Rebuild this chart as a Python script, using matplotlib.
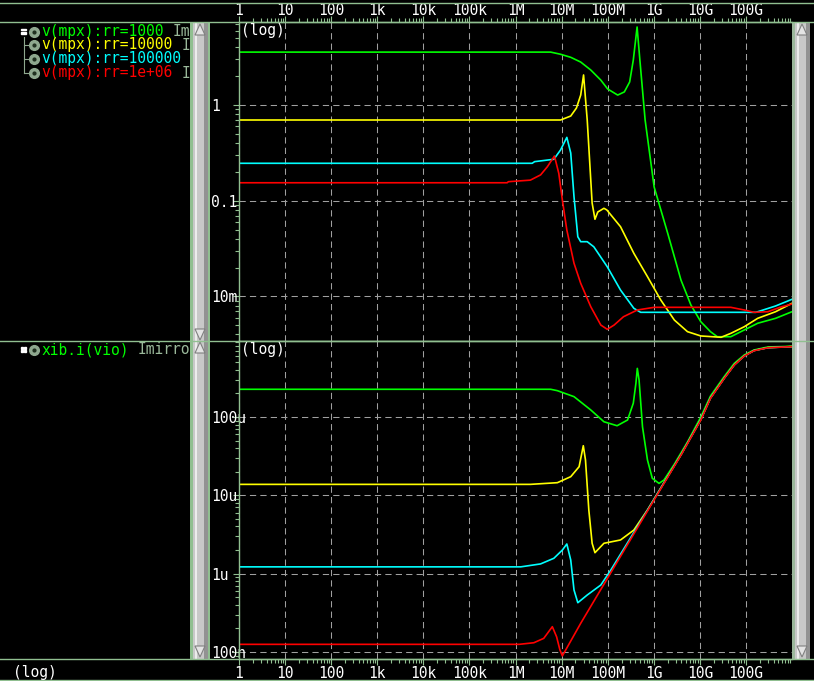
import matplotlib
matplotlib.use("Agg")
import matplotlib.pyplot as plt
from matplotlib.ticker import FixedLocator, FixedFormatter, LogLocator, NullFormatter
from matplotlib.patches import Rectangle, Polygon

plt.rcParams['font.family'] = ['DejaVu Sans Mono']

# asse frequenze (Hz)
freq_ticks = [1, 1e1, 1e2, 1e3, 1e4, 1e5, 1e6, 1e7, 1e8, 1e9, 1e10, 1e11]
freq_labels = ["1", "10", "100", "1k", "10k", "100k", "1M", "10M", "100M", "1G", "10G", "100G"]

top_ticks = [1e-2, 1e-1, 1]
top_labels = ["10m", "0.1", "1"]
bot_ticks = [1e-7, 1e-6, 1e-5, 1e-4]
bot_labels = ["100n", "1u", "10u", "100u"]

legend_names = ["v(mpx):rr=1000", "v(mpx):rr=10000", "v(mpx):rr=100000", "v(mpx):rr=1e+06"]
bottom_name = "xib.i(vio)"
suffix = "Imirror"
colors = ["#00ff00", "#ffff00", "#00ffff", "#ff0000"]

# --- pannello alto: v(mpx) ---
top_f_rr1k = [1, 5.8e6, 9.5e6, 1.58e7, 2.6e7, 4.3e7, 7.1e7, 1.0e8, 1.65e8, 2.3e8, 3.0e8, 3.6e8,
              4.35e8, 5.0e8, 6.5e8, 1.02e9, 2.0e9, 3.9e9, 6.4e9, 1.05e10, 1.7e10, 2.4e10, 4.7e10,
              9.2e10, 1.8e11, 4.4e11, 1e12]
top_v_rr1k = [3.57, 3.57, 3.39, 3.15, 2.81, 2.32, 1.82, 1.47, 1.27, 1.37, 1.74, 2.95,
              6.53, 2.95, 0.697, 0.139, 0.046, 0.0148, 8.13e-3, 5.44e-3, 4.28e-3, 3.79e-3, 3.79e-3,
              4.46e-3, 5.24e-3, 5.9e-3, 6.92e-3]

top_f_rr10k = [1, 9.5e6, 1.58e7, 2.1e7, 2.6e7, 3.0e7, 3.6e7, 4.6e7, 5.3e7, 6.1e7, 8.3e7, 9.6e7,
               1.9e8, 3.7e8, 7.3e8, 1.42e9, 2.8e9, 5.4e9, 1.05e10, 2.9e10, 4.7e10, 9.2e10,
               1.8e11, 4.4e11, 1e12]
top_v_rr10k = [0.697, 0.697, 0.767, 0.93, 1.27, 2.06, 0.697, 0.0946, 0.064, 0.0762, 0.0833, 0.080,
               0.0535, 0.0282, 0.0161, 9.17e-3, 5.66e-3, 4.28e-3, 3.86e-3, 3.74e-3, 4.11e-3, 4.82e-3,
               5.9e-3, 6.92e-3, 8.47e-3]

top_f_rr100k = [1, 2.3e6, 2.6e6, 6.8e6, 9.5e6, 1.3e7, 1.58e7, 1.86e7, 2.25e7, 2.6e7, 3.6e7, 5.0e7,
                9.8e7, 1.9e8, 3.7e8, 5.2e8, 1.65e11, 4.4e11, 1e12]
top_v_rr100k = [0.246, 0.246, 0.256, 0.271, 0.339, 0.459, 0.315, 0.110, 0.042, 0.0373, 0.0373, 0.033,
                0.0204, 0.01166, 7.51e-3, 6.82e-3, 6.82e-3, 7.94e-3, 9.33e-3]

top_f_rr1m = [1, 6.6e5, 7e5, 2.1e6, 3.5e6, 4.9e6, 7.0e6, 8.7e6, 1.04e7, 1.3e7, 1.86e7, 2.6e7,
              4.3e7, 7.1e7, 9.8e7, 1.38e8, 2.2e8, 4.4e8, 1.02e9, 4.7e10, 9.2e10, 1.5e11, 3.0e11,
              5.5e11, 1e12]
top_v_rr1m = [0.154, 0.154, 0.158, 0.164, 0.186, 0.226, 0.293, 0.193, 0.1017, 0.0494, 0.0222, 0.0137,
              7.8e-3, 5.02e-3, 4.53e-3, 5.02e-3, 6.13e-3, 7.21e-3, 7.69e-3, 7.69e-3, 7.21e-3, 6.82e-3,
              6.92e-3, 7.69e-3, 8.33e-3]

# --- pannello basso: xib.i(vio) ---
bot_f_rr1k = [1, 5.8e6, 8.1e6, 1.86e7, 4.3e7, 8.3e7, 1.6e8, 2.7e8, 3.6e8, 4.1e8, 4.4e8, 4.8e8,
              5.7e8, 7.3e8, 9.3e8, 1.3e9, 1.67e9, 2.8e9, 5.4e9, 1.05e10, 1.7e10, 3.4e10, 5.6e10,
              9.2e10, 1.5e11, 3.0e11, 1e12]
bot_i_rr1k = [2.26e-4, 2.26e-4, 2.17e-4, 1.82e-4, 1.23e-4, 8.7e-5, 7.74e-5, 9.16e-5, 1.50e-4, 2.69e-4,
              4.18e-4, 2.97e-4, 7.5e-5, 2.83e-5, 1.65e-5, 1.42e-5, 1.57e-5, 2.5e-5, 4.8e-5, 1.0e-4,
              1.85e-4, 3.3e-4, 4.85e-4, 6.2e-4, 7.18e-4, 7.85e-4, 8.0e-4]

bot_f_rr10k = [1, 2.1e6, 8.1e6, 1.58e7, 2.4e7, 2.96e7, 3.3e7, 3.9e7, 4.6e7, 5.3e7, 8.3e7, 1.9e8,
               3.7e8, 7.3e8, 3.9e9, 1.05e10, 1.7e10, 3.4e10, 5.6e10, 9.2e10, 1.5e11, 3.0e11, 1e12]
bot_i_rr10k = [1.38e-5, 1.38e-5, 1.45e-5, 1.73e-5, 2.32e-5, 4.3e-5, 2.83e-5, 6.49e-6, 2.44e-6, 1.85e-6,
               2.44e-6, 2.69e-6, 3.6e-6, 6.49e-6, 3.3e-5, 9.3e-5, 1.75e-4, 3.15e-4, 4.65e-4, 6.05e-4,
               7.08e-4, 7.7e-4, 7.95e-4]

bot_f_rr100k = [1, 1.3e6, 3.5e6, 6.8e6, 1.04e7, 1.3e7, 1.58e7, 1.86e7, 2.25e7, 3.6e7, 7.1e7, 1.17e8,
                7.3e8, 3.9e9, 1.05e10, 1.7e10, 3.4e10, 5.6e10, 9.2e10, 1.5e11, 3.0e11, 1e12]
bot_i_rr100k = [1.22e-6, 1.22e-6, 1.33e-6, 1.57e-6, 2.0e-6, 2.39e-6, 1.49e-6, 6.18e-7, 4.25e-7, 5.33e-7,
                7.15e-7, 1.11e-6, 6.45e-6, 3.3e-5, 9.3e-5, 1.75e-4, 3.14e-4, 4.63e-4, 6.03e-4, 7.05e-4,
                7.68e-4, 7.92e-4]

bot_f_rr1m = [1, 1.2e6, 2.5e6, 4.1e6, 6.3e6, 7.8e6, 9.2e6, 1.04e7, 2.6e7, 1.38e8, 7.3e8, 3.9e9,
              1.05e10, 1.7e10, 3.4e10, 5.6e10, 9.2e10, 1.5e11, 3.0e11, 1e12]
bot_i_rr1m = [1.25e-7, 1.25e-7, 1.31e-7, 1.49e-7, 2.10e-7, 1.56e-7, 1.06e-7, 8.9e-8, 2.32e-7, 1.21e-6,
              6.3e-6, 3.27e-5, 9.16e-5, 1.73e-4, 3.12e-4, 4.61e-4, 6.01e-4, 7.03e-4, 7.67e-4, 7.91e-4]

FRAME = "#90bf90"
GRID = "#a0a0a0"
W, H = 814, 681


def style_axes(ax, yticks, ylabels, ylim, xtop):
    ax.set_facecolor("black")
    ax.set_xscale("log")
    ax.set_yscale("log")
    ax.set_xlim(1, 1e12)
    ax.set_ylim(*ylim)
    ax.set_axisbelow(True)
    for s in ax.spines.values():
        s.set_color(FRAME)
        s.set_linewidth(1.0)
    ax.spines["right"].set_visible(False)

    ax.xaxis.set_major_locator(FixedLocator(freq_ticks))
    ax.xaxis.set_minor_locator(LogLocator(base=10, subs=range(2, 10), numticks=100))
    ax.yaxis.set_major_locator(FixedLocator(yticks))
    ax.yaxis.set_minor_locator(LogLocator(base=10, subs=range(2, 10), numticks=100))
    ax.yaxis.set_major_formatter(FixedFormatter(ylabels))
    ax.yaxis.set_minor_formatter(NullFormatter())
    ax.xaxis.set_minor_formatter(NullFormatter())
    ax.xaxis.set_major_formatter(FixedFormatter(freq_labels))
    if xtop:
        ax.tick_params(axis="x", which="both", top=True, bottom=False, labeltop=True, labelbottom=False)
    else:
        ax.tick_params(axis="x", which="both", top=False, bottom=True, labeltop=False, labelbottom=True)
    ax.tick_params(axis="both", which="major", length=4, width=0.8, color=FRAME,
                   labelcolor="white", labelsize=10.5, direction="out")
    ax.tick_params(axis="both", which="minor", length=2.6, width=0.8, color=FRAME, direction="out")
    ax.tick_params(axis="x", which="major", pad=-1.5 if xtop else 1)
    ax.tick_params(axis="y", which="both", left=True, right=False)
    ax.tick_params(axis="y", which="major", pad=15.9)
    plt.setp(ax.get_yticklabels(), ha="left")
    ax.grid(True, which="major", color=GRID, linestyle=(0, (6, 4)), linewidth=0.75)


fig = plt.figure(figsize=(W / 100, H / 100), dpi=100, facecolor="black")

ax_t = fig.add_axes([239 / W, 1 - 341 / H, 553 / W, 319.3 / H])
ax_b = fig.add_axes([239 / W, 1 - 659.3 / H, 553 / W, 318.3 / H])
style_axes(ax_t, top_ticks, top_labels, (3.42e-3, 7.42), True)
style_axes(ax_b, bot_ticks, bot_labels, (8.05e-8, 9.35e-4), False)

top_series = [(top_f_rr1k, top_v_rr1k), (top_f_rr10k, top_v_rr10k),
              (top_f_rr100k, top_v_rr100k), (top_f_rr1m, top_v_rr1m)]
bot_series = [(bot_f_rr1k, bot_i_rr1k), (bot_f_rr10k, bot_i_rr10k),
              (bot_f_rr100k, bot_i_rr100k), (bot_f_rr1m, bot_i_rr1m)]
for (f, v), c in zip(top_series, colors):
    ax_t.plot(f, v, color=c, lw=1.2)
for (f, v), c in zip(bot_series, colors):
    ax_b.plot(f, v, color=c, lw=1.2)

# pannello legenda (testo tagliato a x=190)
leg = fig.add_axes([0, 0, 190 / W, 1])
leg.set_xlim(0, 190)
leg.set_ylim(H, 0)
leg.axis("off")
cw = 0.602 * 10.5 * 100 / 72
rows = [31.5, 45, 59, 73]
for name, c, y in zip(legend_names, colors, rows):
    leg.text(41, y, name, color=c, fontsize=10.5, va="center", ha="left", clip_on=True)
    leg.text(41 + (len(name) + 1) * cw, y, suffix, color="#9ab89a", fontsize=10.5,
             va="center", ha="left", clip_on=True)
    leg.plot(33.5, y, "o", ms=7, mfc="#8fa88f", mec="#8fa88f")
    leg.plot(33.5, y, "o", ms=2, mfc="#203020", mec="#203020")
leg.text(41, 350, bottom_name, color="#00ff00", fontsize=10.5, va="center", ha="left", clip_on=True)
leg.text(41 + (len(bottom_name) + 1) * cw, 350, suffix, color="#9ab89a", fontsize=10.5,
         va="center", ha="left", clip_on=True)
leg.plot(33.5, 350, "o", ms=7, mfc="#8fa88f", mec="#8fa88f")
leg.plot(33.5, 350, "o", ms=2, mfc="#203020", mec="#203020")
# simbolo "=" e albero
leg.add_patch(Rectangle((21, 28.5), 5, 1.5, color="white"))
leg.add_patch(Rectangle((21, 32), 5, 1.5, color="white"))
leg.plot([23.5, 23.5], [37, 73], color="#8fa88f", lw=0.8)
for y in rows[1:]:
    leg.plot([23.5, 28], [y, y], color="#8fa88f", lw=0.8)
for x0 in (21, 24):
    for y0 in (346.5, 349.5):
        leg.add_patch(Rectangle((x0, y0), 2, 2, color="white"))

# cornici, barre di scorrimento
ov = fig.add_axes([0, 0, 1, 1], zorder=5)
ov.set_xlim(0, W)
ov.set_ylim(H, 0)
ov.axis("off")
ov.patch.set_visible(False)
for y in (2.7, 21.7, 341, 659.3, 680):
    ov.plot([0, W], [y, y], color=FRAME, lw=1.0)

def scrollbar(x0, y0, y1):
    ov.add_patch(Rectangle((x0, y0), 15, y1 - y0, color="#c8c8c8", lw=0))
    ov.add_patch(Rectangle((x0 + 2, y0), 2, y1 - y0, color="#ececec", lw=0))
    ov.add_patch(Rectangle((x0 + 11, y0), 4, y1 - y0, color="#929292", lw=0))

def arrow(xc, ytip, ybase):
    ov.add_patch(Polygon([(xc, ytip), (xc - 5, ybase), (xc + 5, ybase)], closed=True,
                         facecolor="#e4e4e4", edgecolor="#808080", lw=0.8))

# sinistra
ov.add_patch(Rectangle((190, 22), 3, 637, color=FRAME, lw=0))
ov.add_patch(Rectangle((208, 22), 2, 637, color=FRAME, lw=0))
scrollbar(193, 22, 659)
arrow(200, 24, 35)
arrow(200, 340, 329)
arrow(200, 342, 353)
arrow(200, 657, 646)
# destra
ov.add_patch(Rectangle((792, 22), 3, 637, color="#9cb89c", lw=0))
scrollbar(795, 22, 659)
arrow(802, 24, 35)
arrow(802, 657, 646)

ov.text(241, 31, "(log)", color="white", fontsize=10.5, va="center", ha="left")
ov.text(241, 349.5, "(log)", color="white", fontsize=10.5, va="center", ha="left")
ov.text(13, 672, "(log)", color="white", fontsize=10.5, va="center", ha="left")

fig.savefig("out.png", dpi=100, facecolor="black")
